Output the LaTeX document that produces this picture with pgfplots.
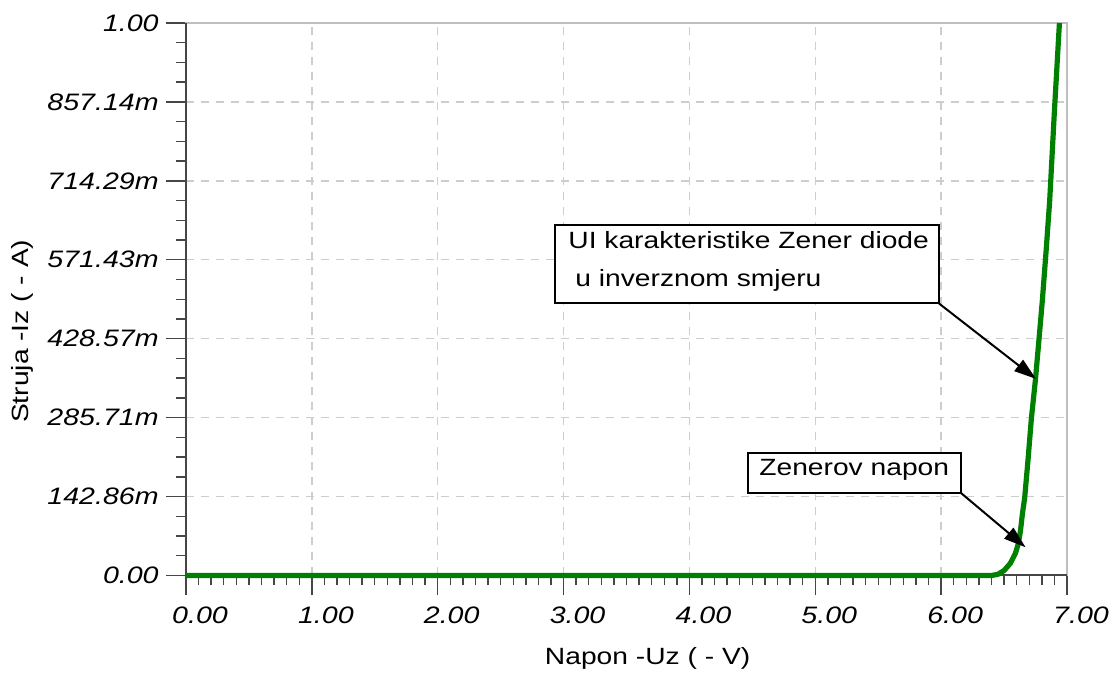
\documentclass[border=0pt]{standalone}
\usepackage{pgfplots}
\pgfplotsset{compat=1.18}
\usepackage{fontspec}
\setmainfont{Liberation Sans}[FakeStretch=1.2]
\usetikzlibrary{arrows.meta}
\definecolor{curve}{RGB}{0,128,0}
\definecolor{gridc}{RGB}{205,205,205}
\definecolor{boxc}{RGB}{190,190,190}
\definecolor{axc}{RGB}{70,70,70}
\begin{document}
\begin{tikzpicture}
\useasboundingbox (-93pt,-48.75pt) rectangle (464pt,287.75pt);
\begin{axis}[
 at={(0pt,0pt)}, anchor=south west,
 scale only axis, width=440.5pt, height=276.25pt,
 xmin=0, xmax=7, ymin=0, ymax=1,
 xtick={0,1,2,3,4,5,6,7},
 xticklabels={0.00,1.00,2.00,3.00,4.00,5.00,6.00,7.00},
 ytick={0,0.142857,0.285714,0.428571,0.571429,0.714286,0.857143,1},
 yticklabels={0.00,142.86m,285.71m,428.57m,571.43m,714.29m,857.14m,1.00},
 minor x tick num=9, minor y tick num=3,
 tick align=outside, tick pos=left,
 major tick length=10pt, minor tick length=5pt,
 every tick/.style={axc, line width=0.7pt},
 axis line style={boxc, line width=0.7pt},
 grid=major,
 major grid style={gridc, dash pattern=on 4pt off 3.5pt, line width=0.7pt},
 tick label style={font=\fontsize{11.9}{14}\selectfont\itshape, inner sep=0pt},
 yticklabel style={anchor=east, xshift=-3.5pt},
 xticklabel style={anchor=base, xshift=7pt, yshift=-14pt},
 label style={font=\fontsize{11.75}{14}\selectfont},
 xlabel={Napon -Uz ( - V)},
 ylabel={Struja -Iz ( - A)},
 xlabel style={at={(axis description cs:0.524,-0.150)}, anchor=center},
 ylabel style={at={(axis description cs:-0.186,0.442)}, anchor=center},
 clip=false,
]
\draw[axc, line width=1pt] (rel axis cs:0,1) -- (rel axis cs:0,0) -- (rel axis cs:1,0);
\addplot[curve, line width=2.6pt, line join=round] coordinates {
 (0,0) (6.40,0) (6.45,0.002) (6.50,0.009) (6.55,0.022) (6.59,0.04)
 (6.61,0.055) (6.63,0.08) (6.645,0.11) (6.664,0.141) (6.69,0.208)
 (6.717,0.284) (6.75,0.356) (6.777,0.426) (6.804,0.497) (6.835,0.59)
 (6.863,0.68) (6.90,0.84) (6.94,1.0)
};
\end{axis}
% annotations
\draw[black, line width=1pt, fill=white] (184.5pt,136pt) rectangle (376.5pt,175pt);
\node[anchor=base west, inner sep=0pt, font=\fontsize{11.75}{14}\selectfont] at (191pt,163.6pt) {UI karakteristike Zener diode};
\node[anchor=base west, inner sep=0pt, font=\fontsize{11.75}{14}\selectfont] at (194.5pt,144.4pt) {u inverznom smjeru};
\draw[black, line width=1pt, -{Triangle[length=11pt,width=7pt]}] (376.5pt,136pt) -- (425pt,98.3pt);
\draw[black, line width=1pt, fill=white] (281.2pt,41.4pt) rectangle (387.3pt,61.1pt);
\node[anchor=base west, inner sep=0pt, font=\fontsize{11.75}{14}\selectfont] at (286.5pt,49.75pt) {Zenerov napon};
\draw[black, line width=1pt, -{Triangle[length=11pt,width=7pt]}] (387.3pt,41.4pt) -- (419.8pt,14.1pt);
\end{tikzpicture}
\end{document}
